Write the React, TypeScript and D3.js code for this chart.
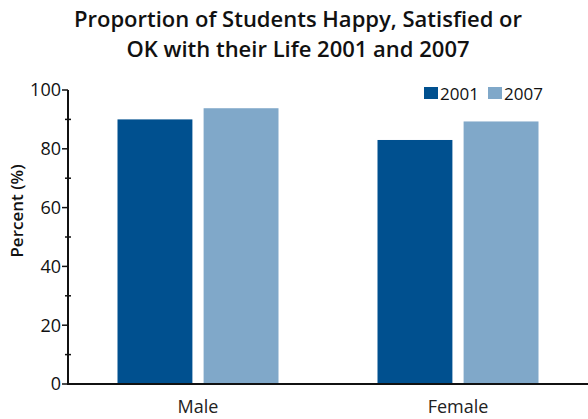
import React from "react";
import * as d3 from "d3";

const categories = ["Male", "Female"];
const seriesNames = ["2001", "2007"];
const values2001 = [90, 83];
const values2007 = [93.8, 89.3];
const yTicks = [0, 20, 40, 60, 80, 100];
const yMinorTicks = [10, 30, 50, 70, 90];
const colors = ["#00508f", "#80a8c9"];
const titleLines = ["Proportion of Students Happy, Satisfied or", "OK with their Life 2001 and 2007"];

export default function App() {
  const W = 588, H = 419;
  const left = 68, right = 588, top = 90, bottom = 384;
  const font = "'Open Sans', sans-serif";
  const x = d3.scaleBand<string>().domain(categories).range([left, right]).padding(0);
  const inner = d3.scaleBand<string>().domain(seriesNames).range([0, 161]).paddingInner(0.13);
  const y = d3.scaleLinear().domain([0, 100]).range([bottom, top]);
  const series = [values2001, values2007];
  const groupW = 161;
  return (
    <svg width={W} height={H} style={{ position: "absolute", left: 0, top: 0, background: "#fff" }}>
      {titleLines.map((t, i) => (
        <text key={t} x={298} y={27 + i * 30} textAnchor="middle" fontFamily={font} fontWeight={600} fontSize={22} fill="#111">{t}</text>
      ))}
      {categories.map((c, ci) =>
        seriesNames.map((s, si) => {
          const x0 = (x(c) as number) + (x.bandwidth() - groupW) / 2 + (inner(s) as number);
          const v = series[si][ci];
          return <rect key={c + s} x={x0} y={y(v)} width={inner.bandwidth()} height={bottom - y(v)} fill={colors[si]} />;
        })
      )}
      <line x1={left} x2={right} y1={bottom} y2={bottom} stroke="#111" strokeWidth={2} />
      <line x1={left} x2={left} y1={top} y2={bottom + 1} stroke="#111" strokeWidth={2} />
      {yTicks.map((t) => (
        <g key={t}>
          <line x1={left - 6} x2={left} y1={y(t)} y2={y(t)} stroke="#111" strokeWidth={1.5} />
          <text x={left - 7} y={y(t)} dy="0.36em" textAnchor="end" fontFamily={font} fontSize={18} fill="#111">{t}</text>
        </g>
      ))}
      {yMinorTicks.map((t) => (
        <line key={t} x1={left - 3} x2={left + 3} y1={y(t)} y2={y(t)} stroke="#111" strokeWidth={1.5} />
      ))}
      <text transform={`translate(23,211) rotate(-90)`} textAnchor="middle" fontFamily={font} fontWeight={600} fontSize={17} fill="#111">Percent (%)</text>
      {categories.map((c) => (
        <text key={c} x={(x(c) as number) + x.bandwidth() / 2} y={413} textAnchor="middle" fontFamily={font} fontSize={18} fill="#222">{c}</text>
      ))}
      {seriesNames.map((s, i) => (
        <g key={s} transform={`translate(${424 + i * 64},87)`}>
          <rect width={14} height={12} fill={colors[i]} />
          <text x={16} y={12.5} fontFamily={font} fontSize={17} fill="#111">{s}</text>
        </g>
      ))}
    </svg>
  );
}
